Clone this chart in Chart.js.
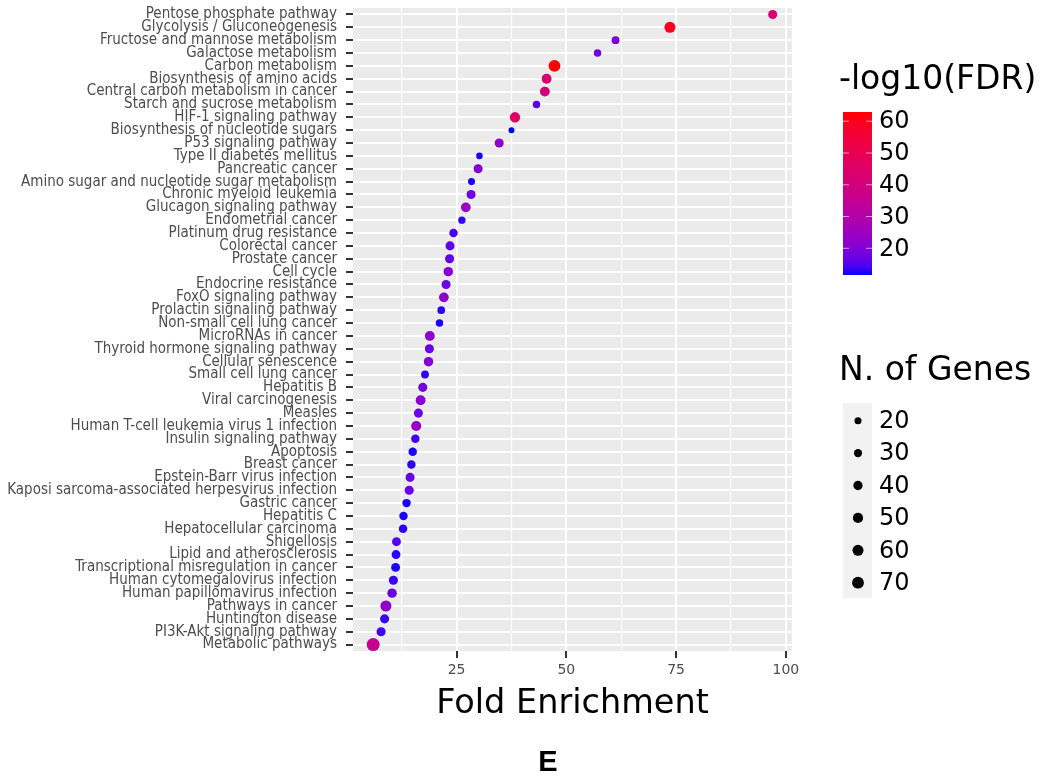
<!DOCTYPE html>
<html>
<head>
<meta charset="utf-8">
<script src="https://cdn.jsdelivr.net/npm/chart.js@4.4.1/dist/chart.umd.min.js"></script>
<style>
  html, body { margin: 0; padding: 0; background: #ffffff; }
  #wrap { width: 1046px; height: 781px; }
</style>
</head>
<body>
<div id="wrap"><canvas id="enrichChart" width="1046" height="781"></canvas></div>
<script>
// pathways, from top to bottom
const pathways = [
  'Pentose phosphate pathway', 'Glycolysis / Gluconeogenesis', 'Fructose and mannose metabolism',
  'Galactose metabolism', 'Carbon metabolism', 'Biosynthesis of amino acids',
  'Central carbon metabolism in cancer', 'Starch and sucrose metabolism', 'HIF-1 signaling pathway',
  'Biosynthesis of nucleotide sugars', 'P53 signaling pathway', 'Type II diabetes mellitus',
  'Pancreatic cancer', 'Amino sugar and nucleotide sugar metabolism', 'Chronic myeloid leukemia',
  'Glucagon signaling pathway', 'Endometrial cancer', 'Platinum drug resistance',
  'Colorectal cancer', 'Prostate cancer', 'Cell cycle', 'Endocrine resistance',
  'FoxO signaling pathway', 'Prolactin signaling pathway', 'Non-small cell lung cancer',
  'MicroRNAs in cancer', 'Thyroid hormone signaling pathway', 'Cellular senescence',
  'Small cell lung cancer', 'Hepatitis B', 'Viral carcinogenesis', 'Measles',
  'Human T-cell leukemia virus 1 infection', 'Insulin signaling pathway', 'Apoptosis',
  'Breast cancer', 'Epstein-Barr virus infection', 'Kaposi sarcoma-associated herpesvirus infection',
  'Gastric cancer', 'Hepatitis C', 'Hepatocellular carcinoma', 'Shigellosis',
  'Lipid and atherosclerosis', 'Transcriptional misregulation in cancer',
  'Human cytomegalovirus infection', 'Human papillomavirus infection', 'Pathways in cancer',
  'Huntington disease', 'PI3K-Akt signaling pathway', 'Metabolic pathways'
];

const foldEnrichment = [
  97.0, 73.6, 61.2, 57.1, 47.3, 45.5, 45.1, 43.2, 38.3, 37.5,
  34.7, 30.2, 29.9, 28.4, 28.3, 27.1, 26.2, 24.3, 23.5, 23.4,
  23.1, 22.6, 22.1, 21.5, 21.1, 18.9, 18.8, 18.6, 17.8, 17.3,
  16.8, 16.3, 15.8, 15.6, 15.0, 14.7, 14.4, 14.2, 13.6, 12.9,
  12.8, 11.3, 11.2, 11.1, 10.6, 10.3, 8.9, 8.6, 7.8, 6.0
];

const log10FDR = [
  42, 60, 19, 18, 62.9, 43, 41, 15, 46, 11.6,
  22, 12, 20, 12, 18, 25, 12.5, 14, 16, 16,
  21, 17, 22, 12.5, 12, 22, 17, 20, 12.5, 18,
  21, 17, 24, 13.5, 12, 12.5, 17, 16.5, 12, 12,
  12.5, 15, 12.5, 12, 13, 17, 23, 13, 13.5, 36
];

const nGenes = [
  38, 60, 26, 24, 70, 46, 46, 23, 52, 12,
  38, 16, 38, 20, 38, 45, 22, 32, 38, 38,
  42, 38, 45, 25, 23, 46, 38, 42, 26, 38,
  46, 38, 48, 32, 32, 32, 38, 38, 32, 32,
  33, 36, 36, 36, 38, 42, 60, 38, 38, 87
];

const xTicks = [25, 50, 75, 100];
const xMinorTicks = [12.5, 37.5, 62.5, 87.5];
const fdrTicks = [20, 30, 40, 50, 60];
const geneTicks = [20, 30, 40, 50, 60, 70];

const X_MIN = 1.4, X_MAX = 101.4;
const FDR_MIN = 11.6, FDR_MAX = 62.9;

// ---- blue -> red in Lab space (like ggplot's gradient) ----
function rgbToLab(rgb) {
  const [r, g, b] = rgb.map(c => { c /= 255; return c <= 0.04045 ? c / 12.92 : Math.pow((c + 0.055) / 1.055, 2.4); });
  const x = (0.4124564 * r + 0.3575761 * g + 0.1804375 * b) / 0.95047;
  const y = 0.2126729 * r + 0.7151522 * g + 0.0721750 * b;
  const z = (0.0193339 * r + 0.1191920 * g + 0.9503041 * b) / 1.08883;
  const f = t => t > 0.008856 ? Math.cbrt(t) : 7.787 * t + 16 / 116;
  const fx = f(x), fy = f(y), fz = f(z);
  return [116 * fy - 16, 500 * (fx - fy), 200 * (fy - fz)];
}

function labToRgb([L, a, b]) {
  const fy = (L + 16) / 116, fx = fy + a / 500, fz = fy - b / 200;
  const inv = t => t * t * t > 0.008856 ? t * t * t : (t - 16 / 116) / 7.787;
  const x = inv(fx) * 0.95047, y = inv(fy), z = inv(fz) * 1.08883;
  const r = 3.2404542 * x - 1.5371385 * y - 0.4985314 * z;
  const g = -0.9692660 * x + 1.8760108 * y + 0.0415560 * z;
  const bl = 0.0556434 * x - 0.2040259 * y + 1.0572252 * z;
  return [r, g, bl].map(c => {
    c = c <= 0.0031308 ? 12.92 * c : 1.055 * Math.pow(c, 1 / 2.4) - 0.055;
    return Math.round(Math.min(1, Math.max(0, c)) * 255);
  });
}

const labLow = rgbToLab([0, 0, 255]);
const labHigh = rgbToLab([255, 0, 0]);

function fdrColor(v) {
  const t = Math.min(1, Math.max(0, (v - FDR_MIN) / (FDR_MAX - FDR_MIN)));
  const lab = labLow.map((c, i) => c + (labHigh[i] - c) * t);
  const [r, g, b] = labToRgb(lab);
  return `rgb(${r},${g},${b})`;
}

// point radius, area grows with gene count
function geneRadius(n) {
  return Math.sqrt(3.5 + 0.45 * n);
}

const AXIS_FONT = "'DejaVu Sans Condensed', 'Liberation Sans Narrow', 'DejaVu Sans', sans-serif";
const TEXT_FONT = "'DejaVu Sans', sans-serif";

// gray panel behind the grid
const panelBackground = {
  id: 'panelBackground',
  beforeDraw(chart) {
    const { ctx, chartArea: a } = chart;
    ctx.save();
    ctx.fillStyle = '#ffffff';
    ctx.fillRect(0, 0, chart.width, chart.height);
    ctx.fillStyle = '#ebebeb';
    ctx.fillRect(a.left, a.top, a.right - a.left, a.bottom - a.top);
    ctx.restore();
  }
};

// colour bar + size key on the right, and the panel letter
const sideLegends = {
  id: 'sideLegends',
  afterDraw(chart) {
    const ctx = chart.ctx;
    ctx.save();
    ctx.textBaseline = 'middle';
    ctx.textAlign = 'left';
    ctx.fillStyle = '#000000';

    // -log10(FDR)
    ctx.font = `33px ${TEXT_FONT}`;
    ctx.fillText('-log10(FDR)', 839, 80);

    const barL = 843, barW = 29, barTop = 112, barBottom = 275;
    const grad = ctx.createLinearGradient(0, barBottom, 0, barTop);
    for (let i = 0; i <= 20; i++) {
      const t = i / 20;
      grad.addColorStop(t, fdrColor(FDR_MIN + t * (FDR_MAX - FDR_MIN)));
    }
    ctx.fillStyle = grad;
    ctx.fillRect(barL, barTop, barW, barBottom - barTop);

    ctx.font = `24px ${TEXT_FONT}`;
    fdrTicks.forEach(v => {
      const y = barBottom - (v - FDR_MIN) / (FDR_MAX - FDR_MIN) * (barBottom - barTop);
      ctx.strokeStyle = 'rgba(255,255,255,0.6)';
      ctx.lineWidth = 1;
      ctx.beginPath();
      ctx.moveTo(barL, y); ctx.lineTo(barL + 6, y);
      ctx.moveTo(barL + barW - 6, y); ctx.lineTo(barL + barW, y);
      ctx.stroke();
      ctx.fillStyle = '#000000';
      ctx.fillText(String(v), 879, y + 1);
    });

    // N. of Genes
    ctx.font = `33px ${TEXT_FONT}`;
    ctx.fillText('N. of Genes', 839, 371);

    ctx.fillStyle = '#f2f2f2';
    ctx.fillRect(843, 403, 29, 195);
    ctx.font = `24px ${TEXT_FONT}`;
    geneTicks.forEach((n, i) => {
      const y = 420.7 + i * 32.4;
      ctx.fillStyle = '#000000';
      ctx.beginPath();
      ctx.arc(858, y, geneRadius(n), 0, Math.PI * 2);
      ctx.fill();
      ctx.fillText(String(n), 879, y + 1);
    });

    // panel letter
    ctx.textAlign = 'center';
    ctx.font = `bold 29px 'Liberation Sans', Arial, sans-serif`;
    ctx.fillText('E', 548, 763);
    ctx.restore();
  }
};

const ctx = document.getElementById('enrichChart').getContext('2d');
new Chart(ctx, {
  type: 'scatter',
  data: {
    datasets: [{
      data: pathways.map((p, i) => ({ x: foldEnrichment[i], y: p })),
      pointRadius: c => geneRadius(nGenes[c.dataIndex]),
      pointHoverRadius: c => geneRadius(nGenes[c.dataIndex]),
      pointBackgroundColor: c => fdrColor(log10FDR[c.dataIndex]),
      pointBorderWidth: 0,
      borderWidth: 0
    }]
  },
  options: {
    responsive: false,
    animation: false,
    devicePixelRatio: 1,
    layout: { padding: { top: 8, right: 254, bottom: 0, left: 0 } },
    plugins: {
      legend: { display: false },
      tooltip: { enabled: false }
    },
    scales: {
      x: {
        type: 'linear',
        position: 'bottom',
        min: X_MIN,
        max: X_MAX,
        afterBuildTicks: s => {
          s.ticks = [...xMinorTicks, ...xTicks].sort((a, b) => a - b).map(v => ({ value: v }));
        },
        afterFit: s => { s.height = 130; s.paddingLeft = 0; s.paddingRight = 0; },
        border: { display: false },
        grid: {
          color: '#ffffff',
          lineWidth: c => xTicks.includes(c.tick && c.tick.value) ? 2 : 1.1,
          tickColor: c => xTicks.includes(c.tick && c.tick.value) ? '#333333' : 'rgba(0,0,0,0)',
          tickWidth: 2,
          tickLength: 7
        },
        ticks: {
          autoSkip: false,
          maxRotation: 0,
          padding: 4,
          color: '#4d4d4d',
          font: { family: TEXT_FONT, size: 14 },
          callback: v => xTicks.includes(v) ? String(v) : ''
        },
        title: {
          display: true,
          text: 'Fold Enrichment',
          color: '#000000',
          font: { family: TEXT_FONT, size: 33.5 },
          padding: { top: 0, bottom: 57 }
        }
      },
      y: {
        type: 'category',
        labels: pathways,
        offset: true,
        afterFit: s => { s.width = 353; s.paddingTop = 0; s.paddingBottom = 0; },
        border: { display: false },
        grid: {
          color: '#ffffff',
          lineWidth: 2,
          tickColor: '#333333',
          tickWidth: 2,
          tickLength: 7
        },
        ticks: {
          autoSkip: false,
          padding: 9,
          color: '#4d4d4d',
          font: { family: AXIS_FONT, size: 15 }
        }
      }
    }
  },
  plugins: [panelBackground, sideLegends]
});
</script>
</body>
</html>
